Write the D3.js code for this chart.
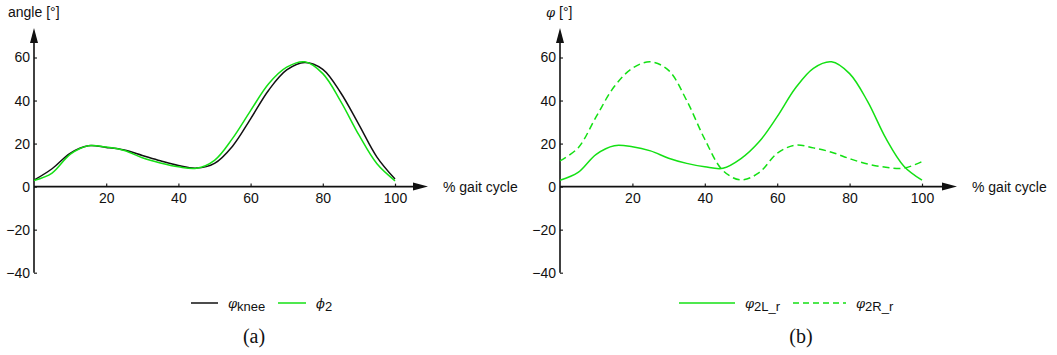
<!DOCTYPE html>
<html>
<head>
<meta charset="utf-8">
<script src="https://cdn.jsdelivr.net/npm/d3@7"></script>
<style>
  body { margin: 0; background: #fff; }
  svg { font-family: "Liberation Sans", Arial, sans-serif; }
  text { fill: #111; }
</style>
</head>
<body>
<script>
// gait cycle values, read every 5 %
var gaitPct = [0,5,10,15,20,25,30,35,40,45,50,55,60,65,70,75,80,85,90,95,100];

var phiKnee = [3,8.3,15.5,19,18.2,17,14.5,12,9.8,8.6,10.8,18.8,31.5,44.8,54.2,57.7,54.5,43.5,28.8,13.7,3.5];
var phi2    = [2.8,6.3,15,19,18.4,16.8,13.4,11,9.2,8.5,12.2,22.4,35.3,47.8,55.5,58,52.5,39.5,24,10.6,2.7];

var phi2L = [3,6.6,15,19,18.5,16.6,13.2,10.8,9.2,8.5,13,20.8,32.5,45.7,55,58,52.5,39.5,22.5,9.5,3];
var phi2R = [12,18,32.5,46.5,55,58,54,40,22,7.5,3.1,6.5,15.5,19.3,18,16,13,10.5,9,8.6,11.6];

var yTicks = [-40,-20,0,20,40,60];
var xTicks = [20,40,60,80,100];

var green = "#14e014";
var width = 1057, height = 355;

var svg = d3.select("body").append("svg")
    .attr("width", width)
    .attr("height", height);

var y = d3.scaleLinear().domain([-40, 60]).range([272.7, 57.5]);

function drawPanel(x0, x1, arrowEnd, series, yTitle, legend, tag, tagX){
  var g = svg.append("g");
  var x = d3.scaleLinear().domain([0, 100]).range([x0, x1]);

  // y axis ticks
  g.append("g")
    .attr("transform", "translate(" + x0 + ",0)")
    .call(d3.axisLeft(y).tickValues(yTicks).tickSize(-3).tickPadding(4).tickSizeOuter(0))
    .call(function(a){
      a.select(".domain").remove();
      a.selectAll("line").attr("stroke", "#222").attr("stroke-width", 1.2);
      a.selectAll("text").attr("font-size", 14).attr("font-family", null).attr("fill", "#111");
    });

  // x axis ticks
  g.append("g")
    .attr("transform", "translate(0," + y(0) + ")")
    .call(d3.axisBottom(x).tickValues(xTicks).tickSize(-3).tickPadding(6).tickSizeOuter(0))
    .call(function(a){
      a.select(".domain").remove();
      a.selectAll("line").attr("stroke", "#222").attr("stroke-width", 1.2);
      a.selectAll("text").attr("font-size", 14).attr("font-family", null).attr("fill", "#111");
    });
  g.selectAll("g.tick text").style("font-family", "Liberation Sans, Arial, sans-serif");

  // axis lines + arrows
  g.append("line").attr("x1", x0).attr("x2", x0).attr("y1", y(-40)).attr("y2", 40)
    .attr("stroke", "#111").attr("stroke-width", 1.6);
  g.append("path")
    .attr("d", "M" + x0 + ",28 L" + (x0 - 4) + ",43 L" + (x0 + 4) + ",43 Z")
    .attr("fill", "#111");
  g.append("line").attr("x1", x0).attr("x2", arrowEnd - 12).attr("y1", y(0)).attr("y2", y(0))
    .attr("stroke", "#111").attr("stroke-width", 1.6);
  g.append("path")
    .attr("d", "M" + arrowEnd + "," + y(0) + " L" + (arrowEnd - 15) + "," + (y(0) - 4) + " L" + (arrowEnd - 15) + "," + (y(0) + 4) + " Z")
    .attr("fill", "#111");

  g.append("text").attr("x", arrowEnd + 15).attr("y", y(0) + 5)
    .attr("font-size", 14).text("% gait cycle");

  yTitle(g);

  var line = d3.line()
    .x(function(d){ return x(d[0]); })
    .y(function(d){ return y(d[1]); })
    .curve(d3.curveCatmullRom.alpha(0.5));

  series.forEach(function(s){
    g.append("path")
      .datum(d3.zip(gaitPct, s.values))
      .attr("fill", "none")
      .attr("stroke", s.color)
      .attr("stroke-width", 1.5)
      .attr("stroke-dasharray", s.dash || null)
      .attr("d", line);
  });

  // legend
  legend.forEach(function(l){
    var s = series[l.i];
    g.append("line").attr("x1", l.x1).attr("x2", l.x2).attr("y1", 303).attr("y2", 303)
      .attr("stroke", s.color).attr("stroke-width", 1.5)
      .attr("stroke-dasharray", s.dash ? "6,4" : null);
    var t = g.append("text").attr("x", l.x2 + 10).attr("y", 308).attr("font-size", 14);
    t.append("tspan").style("font-style", "italic").style("font-family", "DejaVu Serif, serif").attr("font-size", 13).text(l.sym);
    t.append("tspan").attr("dy", 3).attr("font-size", 13).text(l.sub);
  });

  g.append("text").attr("x", tagX).attr("y", 343)
    .attr("text-anchor", "middle")
    .style("font-family", "Liberation Serif, Times New Roman, serif")
    .attr("font-size", 20)
    .text(tag);
}

drawPanel(34, 395, 428,
  [{values: phiKnee, color: "#111"}, {values: phi2, color: green}],
  function(g){
    g.append("text").attr("x", 8).attr("y", 17).attr("font-size", 14).text("angle [°]");
  },
  [{i: 0, x1: 191, x2: 218, sym: "φ", sub: "knee"},
   {i: 1, x1: 278, x2: 306, sym: "ϕ", sub: "2"}],
  "(a)", 254);

drawPanel(560, 922, 957,
  [{values: phi2L, color: green}, {values: phi2R, color: green, dash: "7,4"}],
  function(g){
    var t = g.append("text").attr("x", 546).attr("y", 17).attr("font-size", 14);
    t.append("tspan").style("font-style", "italic").style("font-family", "DejaVu Serif, serif").attr("font-size", 13).text("φ");
    t.append("tspan").text(" [°]");
  },
  [{i: 0, x1: 679, x2: 735, sym: "φ", sub: "2L_r"},
   {i: 1, x1: 793, x2: 846, sym: "φ", sub: "2R_r"}],
  "(b)", 801);
</script>
</body>
</html>
